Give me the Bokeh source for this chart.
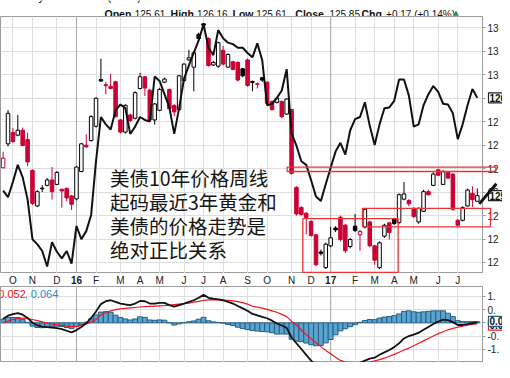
import pandas as pd
from bokeh.plotting import figure
from bokeh.layouts import column
from bokeh.models import (ColumnDataSource, Range1d, FixedTicker, Grid, Span)
from bokeh.embed import file_html
from bokeh.resources import INLINE
from bokeh.core.properties import value

# ---------------------------------------------------------------- data
first_week = "2015-09-21"          # weekly bars, week-start dates
prior_close = 127.60

opens = [127.04, 128.06, 128.54, 128.43, 128.64, 128.24, 126.93, 125.41, 126.14, 126.29,
         126.52, 126.33, 126.12, 126.16, 125.84, 125.71, 126.88, 128.00, 128.20, 128.81,
         130.80, 130.58, 130.51, 130.71, 129.08, 128.56, 129.29, 129.15, 130.42, 130.92,
         130.35, 129.08, 129.49, 130.69, 130.38, 129.69, 129.52, 130.76, 131.64, 131.33,
         132.73, 133.18, 132.55, 131.42, 131.37, 132.05, 131.33, 131.56, 131.53, 131.26,
         131.64, 130.72, 130.62, 130.88, 130.69, 129.87, 129.83, 129.87, 129.33, 129.52,
         126.20, 125.34, 125.10, 124.75, 124.18, 123.45, 122.78, 123.71, 124.47, 124.93,
         124.59, 123.68, 124.55, 124.18, 124.52, 124.73, 123.71, 122.78, 124.12, 124.69,
         124.86, 124.70, 125.70, 125.64, 125.31, 124.73, 125.18, 126.02, 126.29, 126.95,
         126.33, 126.85, 126.77, 124.80, 124.80, 125.41, 125.95, 125.61]
highs = [127.72, 129.50, 128.74, 129.29, 128.75, 128.54, 126.97, 126.08, 126.30, 126.60,
         127.07, 126.90, 126.15, 126.20, 125.88, 127.10, 128.10, 128.47, 129.28, 130.05,
         131.69, 130.71, 131.05, 130.75, 129.12, 129.75, 129.35, 130.30, 131.09, 130.95,
         130.40, 129.80, 130.45, 130.88, 130.42, 129.75, 131.00, 131.50, 132.07, 132.00,
         132.80, 133.20, 132.60, 131.60, 132.42, 132.24, 131.92, 131.60, 131.58, 131.30,
         131.70, 130.76, 130.68, 130.92, 130.72, 129.90, 130.05, 129.90, 130.00, 129.55,
         126.25, 125.40, 125.15, 124.80, 124.22, 123.55, 123.85, 124.52, 124.55, 125.00,
         124.65, 124.05, 125.07, 124.40, 125.30, 124.78, 123.75, 123.90, 124.65, 124.72,
         124.90, 125.95, 126.43, 125.70, 125.35, 125.35, 126.10, 126.10, 126.85, 127.00,
         126.95, 126.90, 126.80, 124.85, 125.40, 126.15, 126.25, 126.16]
lows = [127.02, 127.95, 128.10, 128.38, 127.95, 127.11, 125.45, 125.36, 126.00, 126.25,
        125.68, 126.30, 125.34, 125.61, 125.24, 125.65, 126.85, 127.90, 128.15, 128.75,
        130.70, 130.17, 130.38, 129.18, 128.50, 128.50, 128.98, 129.10, 130.38, 130.10,
        129.00, 128.88, 129.45, 130.65, 129.50, 129.24, 129.48, 130.70, 131.60, 130.30,
        132.50, 132.95, 131.35, 131.38, 131.30, 131.40, 131.30, 131.20, 130.72, 130.90,
        130.50, 130.30, 130.42, 130.70, 129.72, 129.47, 129.78, 129.15, 129.30, 126.75,
        125.00, 125.00, 124.20, 124.10, 122.85, 123.30, 122.72, 123.65, 124.30, 123.90,
        123.40, 123.60, 124.30, 123.50, 124.45, 123.65, 122.90, 122.72, 124.05, 123.98,
        124.60, 124.65, 125.65, 125.40, 124.90, 124.65, 125.15, 125.85, 126.25, 126.70,
        126.30, 126.55, 125.20, 124.55, 124.75, 125.38, 125.37, 125.61]
closes = [127.45, 129.36, 128.16, 128.64, 127.99, 127.29, 125.52, 126.02, 126.17, 126.52,
          126.02, 126.84, 126.05, 125.75, 125.48, 127.07, 128.06, 127.93, 129.22, 130.00,
          130.74, 130.54, 130.42, 129.22, 128.56, 129.70, 129.05, 130.24, 130.92, 130.44,
          129.08, 129.76, 130.38, 130.82, 129.56, 129.42, 130.96, 131.46, 131.73, 131.94,
          132.55, 133.12, 131.40, 131.53, 132.37, 131.46, 131.87, 131.23, 130.78, 130.96,
          130.55, 130.68, 130.60, 130.78, 129.79, 129.52, 130.00, 129.22, 129.97, 126.80,
          125.07, 125.05, 124.92, 124.15, 122.90, 123.38, 123.78, 124.05, 124.39, 123.98,
          123.50, 123.98, 124.36, 124.32, 125.27, 123.71, 123.10, 123.84, 124.59, 124.28,
          124.66, 125.89, 125.92, 125.50, 124.96, 125.31, 126.02, 125.89, 126.77, 126.72,
          126.87, 126.60, 125.27, 124.59, 125.34, 126.09, 125.68, 125.85]

# gold price overlay (black line)
gold = [1138, 1129, 1150, 1173, 1156, 1126, 1072, 1065, 1056, 1035,
        1068, 1055, 1046, 1056, 1039, 1090, 1072, 1083, 1105, 1178,
        1238, 1228, 1221, 1247, 1255, 1250, 1215, 1225, 1238, 1234,
        1232, 1293, 1287, 1269, 1251, 1215, 1250, 1290, 1308, 1325,
        1342, 1364, 1332, 1322, 1356, 1345, 1339, 1337, 1332, 1332,
        1325, 1319, 1338, 1315, 1254, 1256, 1264, 1274, 1303, 1216,
        1199, 1178, 1173, 1152, 1130, 1124, 1147, 1169, 1191, 1203,
        1187, 1220, 1235, 1238, 1258, 1226, 1200, 1228, 1250, 1251,
        1260, 1289, 1289, 1267, 1225, 1228, 1254, 1269, 1280, 1272,
        1256, 1255, 1243, 1208, 1228, 1254, 1276, 1264]

macd_line = [0.156, 0.273, 0.331, 0.367, 0.309, 0.185, 0.004, -0.091, -0.142, -0.164,
             -0.178, -0.200, -0.236, -0.298, -0.360, -0.273, -0.153, -0.018, 0.185, 0.429,
             0.709, 0.818, 0.855, 0.793, 0.731, 0.695, 0.673, 0.731, 0.829, 0.818,
             0.731, 0.731, 0.756, 0.756, 0.673, 0.611, 0.673, 0.731, 0.793, 0.855,
             0.949, 1.058, 0.949, 0.913, 0.891, 0.855, 0.793, 0.731, 0.636, 0.549,
             0.455, 0.338, 0.284, 0.229, 0.175, 0.084, -0.025, -0.098, -0.189, -0.553,
             -0.771, -0.989, -1.207, -1.425, -1.620, -1.750, -1.800, -1.800, -1.750, -1.720,
             -1.700, -1.660, -1.600, -1.516, -1.425, -1.353, -1.316, -1.207, -1.116, -1.025,
             -0.916, -0.771, -0.589, -0.498, -0.444, -0.371, -0.262, -0.153, -0.044, 0.047,
             0.120, 0.102, 0.029, -0.080, -0.080, -0.044, -0.007, 0.020]
signal_line = [0.011, 0.065, 0.127, 0.164, 0.185, 0.164, 0.127, 0.084, 0.040, -0.004,
               -0.044, -0.073, -0.098, -0.124, -0.142, -0.135, -0.087, -0.044, 0.029, 0.127,
               0.302, 0.393, 0.455, 0.502, 0.527, 0.545, 0.564, 0.582, 0.600, 0.611,
               0.622, 0.633, 0.644, 0.655, 0.669, 0.691, 0.709, 0.727, 0.749, 0.782,
               0.811, 0.847, 0.869, 0.876, 0.873, 0.865, 0.851, 0.829, 0.800, 0.764,
               0.709, 0.629, 0.593, 0.556, 0.513, 0.455, 0.400, 0.320, 0.236, 0.065,
               -0.080, -0.280, -0.444, -0.600, -0.753, -0.898, -1.044, -1.171, -1.298, -1.418,
               -1.480, -1.516, -1.535, -1.535, -1.516, -1.480, -1.436, -1.389, -1.335, -1.262,
               -1.189, -1.109, -1.025, -0.953, -0.862, -0.771, -0.680, -0.589, -0.498, -0.407,
               -0.335, -0.262, -0.207, -0.164, -0.127, -0.091, -0.055, -0.025]
macd_hist = [0.145, 0.208, 0.204, 0.203, 0.124, 0.021, -0.123, -0.175, -0.182, -0.160,
             -0.134, -0.127, -0.138, -0.174, -0.218, -0.138, -0.066, 0.026, 0.156, 0.302,
             0.407, 0.425, 0.400, 0.291, 0.204, 0.150, 0.109, 0.149, 0.229, 0.207,
             0.109, 0.098, 0.112, 0.101, 0.004, -0.080, -0.036, 0.004, 0.044, 0.073,
             0.138, 0.211, 0.080, 0.037, 0.018, -0.010, -0.058, -0.098, -0.164, -0.215,
             -0.254, -0.291, -0.309, -0.327, -0.338, -0.371, -0.425, -0.418, -0.425, -0.618,
             -0.691, -0.709, -0.763, -0.825, -0.867, -0.852, -0.756, -0.629, -0.452, -0.302,
             -0.220, -0.144, -0.065, 0.019, 0.091, 0.127, 0.120, 0.182, 0.219, 0.237,
             0.273, 0.338, 0.436, 0.455, 0.418, 0.400, 0.418, 0.436, 0.454, 0.454,
             0.455, 0.364, 0.236, 0.084, 0.047, 0.047, 0.048, 0.045]

price_ticks = [123, 124, 125, 126, 127, 128, 129, 130, 131, 132, 133]
price_tick_labels = ["12", "12", "12", "12", "12", "12", "12", "13", "13", "13", "13"]
macd_ticks = [-1.5, -1.0, -0.5, 0.0, 0.5, 1.0]
macd_tick_labels = ["-1.", "-1.", "-0.", "0.", "0.", "1."]

title_text = "Treasury Note Price (EOD) INDX"
site_text = "\u00a9StockCharts.com"
header_keys = ["Open", "High", "Low", "Close", "Chg"]
header_vals = ["125.61", "126.16", "125.61", "125.85", "+0.17 (+0.14%)"]
macd_legend = ["0.052", ", 0.064"]
note_lines = ["美债10年价格周线", "起码最近3年黄金和", "美债的价格走势是", "绝对正比关系"]
gold_tag, price_tag, macd_tag, signal_tag = "1264", "125.85", "0.064", "0.052"

# hand-drawn marks on the chart (week index / price)
box_left = [58.1, 61.3, 73.5]
box_right = [100.8, 80.8, 99.7]
box_top = [127.07, 124.87, 125.31]
box_bottom = [126.88, 122.58, 124.52]
arrow_start = (97.4, 125.50)
arrow_end = (100.9, 126.36)

# ---------------------------------------------------------------- layout / style
W, RB = 502, 18
H_HEAD, H_MAIN, H_BAND, H_MACD = 16, 257, 13, 76
RED, BLK = "#cc0033", "#000000"
GRIDC, YEARC, FRAMEC = "#dedede", "#a8a8a8", "#9c9c9c"
FONT = "Liberation Sans"
XR = Range1d(-0.54, 98.06)
HEAD_KEY_X = [110, 180, 245.5, 312, 382]
HEAD_VAL_X = [142, 208, 270.5, 348, 408]

n = len(closes)
dates = pd.date_range(first_week, periods=n, freq="7D")
idx = list(range(n))
month_idx = [i for i in range(1, n) if dates[i].month != dates[i - 1].month]
year_idx = [i for i in month_idx if dates[i].month == 1]
month_lbl = [dates[i].strftime("%y") if dates[i].month == 1 else "JFMAMJJASOND"[dates[i].month - 1]
             for i in month_idx]
month_sty = ["bold" if dates[i].month == 1 else "normal" for i in month_idx]

prev = [prior_close] + closes[:-1]
col = [RED if c < pc else BLK for c, pc in zip(closes, prev)]
fill = ["white" if c >= o else cl for o, c, cl in zip(opens, closes, col)]


def panel(h, yr, right_axis, xr=XR, rb=RB):
    f = figure(width=W, height=h, x_range=xr, y_range=yr, output_backend="svg",
               toolbar_location=None, x_axis_location=None,
               y_axis_location=("right" if right_axis else None), title=None,
               min_border_left=0, min_border_right=rb, min_border_top=0, min_border_bottom=0)
    f.center = [r for r in f.center if not isinstance(r, Grid)]
    f.background_fill_color = "white"
    f.border_fill_color = "white"
    f.outline_line_color = None
    return f


def style_axis(ax, ticks, labels):
    ax.ticker = FixedTicker(ticks=ticks)
    ax.major_label_overrides = dict(zip(ticks, labels))
    ax.axis_line_color = FRAMEC
    ax.major_tick_line_color = FRAMEC
    ax.major_tick_out = 3
    ax.major_tick_in = 0
    ax.minor_tick_line_color = None
    ax.major_label_standoff = 2
    ax.major_label_text_font = FONT
    ax.major_label_text_font_size = "10px"
    ax.major_label_text_color = "#222222"


def add_grids(f, yticks):
    f.add_layout(Grid(dimension=0, ticker=FixedTicker(ticks=month_idx), grid_line_color=GRIDC))
    f.add_layout(Grid(dimension=1, ticker=FixedTicker(ticks=yticks), grid_line_color=GRIDC))
    for i in year_idx:
        f.add_layout(Span(location=i, dimension="height", line_color=YEARC, line_width=1,
                          level="underlay"))


def tag(f, y, text, border, y_range_name="default"):
    r = f.text(x=[XR.end], y=[y], text=[text], x_offset=6, y_range_name=y_range_name,
               text_font=value(FONT), text_font_size="10px", text_font_style="bold",
               text_color="#111111", text_baseline="middle", text_align="left",
               border_line_color=border, border_line_width=1.2,
               background_fill_color="white", padding=1)
    r.level = "overlay"
    return r


# ---------------------------------------------------------------- header
hd = panel(H_HEAD, Range1d(17, 0), False, xr=Range1d(0, 510), rb=0)
# the chart's title line sits above the picture's top edge: only its lowest pixels show
hd.text(x=[-3, 403], y=-4.8, text=[title_text, site_text], text_font=value(FONT),
        text_font_size="12px", text_color="#222222", text_baseline="alphabetic")
hd.text(x=HEAD_KEY_X, y=14.6, text=header_keys, text_font=value(FONT),
        text_font_size="10.5px", text_font_style="bold", text_color="#111111",
        text_baseline="alphabetic")
hd.text(x=HEAD_VAL_X, y=14.6, text=header_vals, text_font=value(FONT),
        text_font_size="10px", text_color="#111111", text_baseline="alphabetic")
hd.text(x=[479], y=13.6, text=["\u25b2"], text_font=value("DejaVu Sans"),
        text_font_size="7px", text_color="#2e8b3a", text_baseline="alphabetic")

# ---------------------------------------------------------------- main price panel
p = panel(H_MAIN, Range1d(122.53, 133.49), True)
p.outline_line_color = FRAMEC
style_axis(p.yaxis[0], price_ticks, price_tick_labels)
add_grids(p, price_ticks)
p.extra_y_ranges = {"gold": Range1d(1025.45, 1374.5)}

src = ColumnDataSource(dict(x=idx, o=opens, h=highs, l=lows, c=closes,
                            top=[max(a, b) for a, b in zip(opens, closes)],
                            bot=[min(a, b) for a, b in zip(opens, closes)],
                            col=col, fill=fill))
p.segment(x0="x", y0="l", x1="x", y1="h", line_color="col", line_width=1, source=src)
p.vbar(x="x", width=0.72, top="top", bottom="bot", fill_color="fill", line_color="col",
       line_width=1, source=src)
p.line(idx, gold, y_range_name="gold", line_color="#111111", line_width=2)

boxes = p.quad(left=box_left, right=box_right, top=box_top, bottom=box_bottom,
               fill_color=None, line_color="#f03434", line_width=1.3)
boxes.level = "overlay"

note_x, note_y0, note_step = 21.86, 126.63, 1.02
p.text(x=[note_x] * len(note_lines), y=[note_y0 - i * note_step for i in range(len(note_lines))],
       text=note_lines, text_font=value("Noto Sans CJK SC"), text_font_size="19.5px",
       text_color="#151515", text_baseline="middle", text_align="left")

tag(p, gold[-1], gold_tag, "#222222", "gold")
tag(p, closes[-1], price_tag, "#222222")

shaft = p.segment(x0=[arrow_start[0]], y0=[arrow_start[1]], x1=[arrow_end[0]], y1=[arrow_end[1]],
                  line_color="#111111", line_width=3)
shaft.level = "overlay"
head = p.scatter(x=[arrow_end[0]], y=[arrow_end[1]], marker="triangle", size=11, angle=-0.72,
                 fill_color="#111111", line_color="#111111")
head.level = "overlay"

# ---------------------------------------------------------------- month label band
b = panel(H_BAND, Range1d(0, 1), False)
bsrc = ColumnDataSource(dict(x=month_idx, t=month_lbl, s=month_sty))
b.text(x="x", y=0.5, text="t", text_font_style="s", source=bsrc, text_font=value(FONT),
       text_font_size="10px", text_color="#222222", text_align="center",
       text_baseline="middle")

# ---------------------------------------------------------------- MACD panel
m = panel(H_MACD, Range1d(-1.498, 1.375), True)
m.outline_line_color = FRAMEC
style_axis(m.yaxis[0], macd_ticks, macd_tick_labels)
add_grids(m, macd_ticks)
m.vbar(x=idx, top=macd_hist, bottom=0, width=1.0, fill_color="#5ba4d0",
       line_color="#245f86", line_width=1)
m.line(idx, signal_line, line_color="#f0141e", line_width=1.2)
m.line(idx, macd_line, line_color="#111111", line_width=1.8)
m.text(x=[-1.0, 4.4], y=1.084, text=macd_legend, text_color=["#f0141e", "#2a8fd0"],
       text_font=value(FONT), text_font_size="11px", text_baseline="middle")
tag(m, signal_line[-1] - 0.06, signal_tag, "#f0141e")
tag(m, macd_line[-1] + 0.04, macd_tag, "#245f86")

layout = column(hd, p, b, m)
open("out.html", "w").write(file_html(layout, INLINE, "chart"))
